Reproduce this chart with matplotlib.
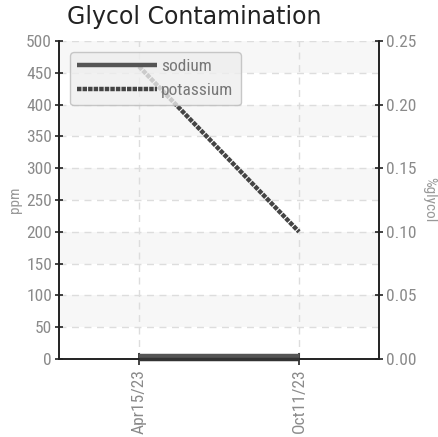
import matplotlib
matplotlib.use("Agg")
import matplotlib.pyplot as plt
from matplotlib import font_manager as fm

dates = ["Apr15/23", "Oct11/23"]
sodium = [4, 4]
potassium = [460, 200]
glycol = [0.0, 0.0]
ppm_ticks = [0, 50, 100, 150, 200, 250, 300, 350, 400, 450, 500]
pct_ticks = [0.00, 0.05, 0.10, 0.15, 0.20, 0.25]

# choose a condensed font
flist = fm.fontManager.ttflist
names = {f.name for f in flist}
fp_kw = None
for cand in ["Roboto Condensed", "Liberation Sans Narrow", "Arial Narrow"]:
    if cand in names:
        fp_kw = dict(family=cand)
        break
if fp_kw is None:
    if any(f.name == "Roboto" and f.stretch == "condensed" for f in flist):
        fp_kw = dict(family="Roboto", stretch="condensed")
    elif any(f.name == "DejaVu Sans" and f.stretch == "condensed" for f in flist):
        fp_kw = dict(family="DejaVu Sans", stretch="condensed")
    else:
        fp_kw = dict(family="Roboto")

def fp(size):
    return fm.FontProperties(size=size, **fp_kw)

fig = plt.figure(figsize=(4.39, 4.37), dpi=100)
ax = fig.add_axes([59/439, 1-359/437, 320/439, 318/437])
ax2 = ax.twinx()

x = list(range(len(dates)))
ax.set_xlim(-0.5, len(dates) - 0.5)
ax.set_ylim(0, 500)
ax2.set_ylim(0, 0.25)

for lo in range(50, 500, 100):
    ax.axhspan(lo, lo + 50, color="#f7f7f7", zorder=0, lw=0)

ax.grid(True, color="#dddddd", linestyle=(0, (5, 4)), linewidth=1)
ax.set_axisbelow(True)

ax2.plot(x, glycol, color="#333333", lw=2.5, solid_capstyle="butt", zorder=3, clip_on=False)
l1, = ax.plot(x, sodium, color="#555555", lw=3.2, solid_capstyle="butt", label="sodium", zorder=4)
l2, = ax.plot(x, potassium, color="#444444", lw=3.2, linestyle=(0, (1, 0.25)), label="potassium", zorder=4)

ax.set_xticks(x)
ax.set_xticklabels(dates, rotation=90, color="#8a8a8a", fontproperties=fp(12.5))
ax.set_yticks(ppm_ticks)
ax.set_yticklabels([str(v) for v in ppm_ticks], color="#8a8a8a", fontproperties=fp(12.5))
ax2.set_yticks(pct_ticks)
ax2.set_yticklabels([f"{v:.2f}" for v in pct_ticks], color="#8a8a8a", fontproperties=fp(12.5))

ax.tick_params(axis="y", direction="inout", length=6, width=1.2, color="#222222", pad=2)
ax.tick_params(axis="x", direction="inout", length=8, width=1.2, color="#222222", pad=3)
ax2.tick_params(axis="y", direction="inout", length=6, width=1.2, color="#222222", pad=2)

for a in (ax, ax2):
    a.spines["top"].set_visible(False)
    for s in ("left", "right", "bottom"):
        a.spines[s].set_color("#222222")
        a.spines[s].set_linewidth(1.2)

ax.set_ylabel("ppm", color="#999999", fontproperties=fp(11), labelpad=3)
ax2.set_ylabel("%glycol", color="#999999", fontproperties=fp(11), rotation=270, labelpad=14)

fig.text(67/439, 1-17/437, "Glycol Contamination", fontsize=17, color="#222222",
         ha="left", va="center", family="DejaVu Sans")

leg = ax.legend(handles=[l1, l2], loc="upper left", bbox_to_anchor=(0.035, 0.965),
                handlelength=4.6, prop=fp(12.5), frameon=True, fancybox=True,
                borderpad=0.4, labelspacing=0.5, handletextpad=0.25, borderaxespad=0)
leg.get_frame().set_facecolor("#eeeeee")
leg.get_frame().set_edgecolor("#bbbbbb")
leg.get_frame().set_alpha(0.8)
for t in leg.get_texts():
    t.set_color("#777777")
leg.set_zorder(10)

fig.savefig("out.png", dpi=100)
